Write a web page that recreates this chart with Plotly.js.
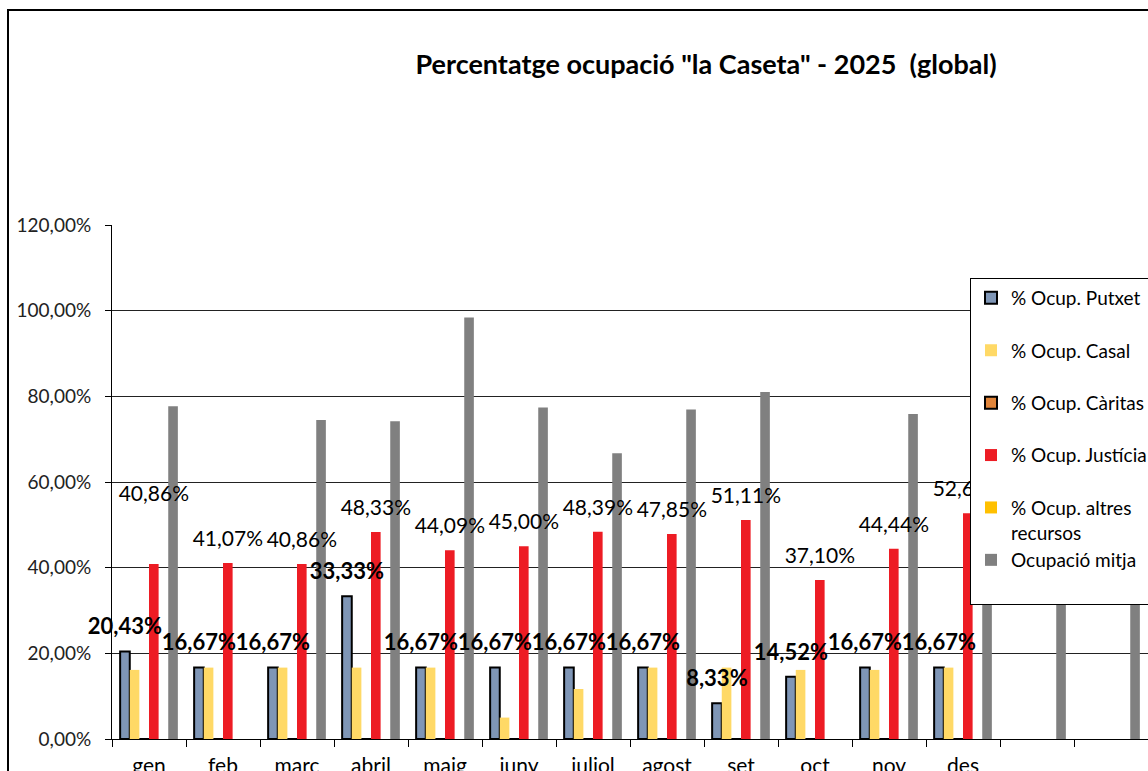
<!DOCTYPE html>
<html><head><meta charset="utf-8">
<script src="https://cdn.plot.ly/plotly-3.0.1.min.js"></script>
<style>
html,body{margin:0;padding:0;background:#fff;overflow:hidden;}
#frame{position:absolute;left:7px;top:9px;width:2000px;height:2000px;border-left:2px solid #000;border-top:2px solid #000;}
#chart{position:absolute;left:0;top:0;width:1148px;height:771px;}
</style></head><body>
<div id="frame"></div><div id="chart"></div>
<script>
const months = ["gen","feb","marc","abril","maig","juny","juliol","agost","set","oct","nov","des"," ","  "];
const putxet   = [20.43,16.67,16.67,33.33,16.67,16.67,16.67,16.67,8.33,14.52,16.67,16.67,null,null];
const casal    = [16.13,16.67,16.67,16.67,16.67,5.00,11.67,16.67,16.67,16.13,16.13,16.67,null,null];
const caritas  = [0,0,0,0,0,0,0,0,0,0,0,0,null,null];
const justicia = [40.86,41.07,40.86,48.33,44.09,45.00,48.39,47.85,51.11,37.10,44.44,52.69,null,null];
const altres   = [0,0,0,0,0,0,0,0,0,0,0,0,null,null];
const mitja    = [77.7,null,74.5,74.2,98.4,77.4,66.7,76.9,81.0,null,75.9,76.0,70.0,70.0];
const yTicks   = [0,20,40,60,80,100,120];
const seriesNames = ["% Ocup. Putxet<br>\u00a0","% Ocup. Casal<br>\u00a0","% Ocup. Càritas<br>\u00a0","% Ocup. Justícia<br>\u00a0","% Ocup. altres<br>recursos","Ocupació mitja<br>\u00a0"];

const FONT = "Lato, 'Open Sans', sans-serif";
const BARGAP = 0.22;
const NSER = 6;
const colors = ["#7F96B6","#FFD966","#E0843A","#ED1C24","#FFC000","#808080"];
const outlined = [true,false,true,false,false,false];
const data = [putxet,casal,caritas,justicia,altres,mitja].map((vals,i)=>({
  type:"bar", x:months, y:vals, name:seriesNames[i], legendgroup:"g"+i,
  marker:{color:colors[i], line:{color:"#000", width: outlined[i]?2:0}},
  hoverinfo:"y"
}));

function fmt(v){ return v.toFixed(2).replace('.', ',') + '%'; }
function slotOffset(i){ const gw = 1-BARGAP; return -gw/2 + (i+0.5)*gw/NSER; }
// data labels: drawn in the plot layer (under the legend) on a hidden numeric overlay axis
const LABEL_GAP = 17;           // invisible marker size that lifts the label above the bar top
const justiciaNudge = {0: 74};  // extra lift for the first Justícia label
function labelTrace(vals, slot, bold, size, nudge){
  const idx = vals.map((v,k)=>k).filter(k=>vals[k]!=null);
  return {type:"scatter", mode:"markers+text", xaxis:"x2", yaxis:"y",
    x: idx.map(k=>k+slotOffset(slot)), y: idx.map(k=>vals[k]),
    text: idx.map(k=>fmt(vals[k])), textposition:"top center",
    textfont:{family:FONT, size:size, color:"#000", weight: bold?"bold":"normal"},
    marker:{size: idx.map(k=>LABEL_GAP + ((nudge&&nudge[k])||0)), color:"rgba(0,0,0,0)", line:{width:0}},
    cliponaxis:false, showlegend:false, hoverinfo:"skip"};
}
data.push(labelTrace(putxet, 0, true, 22, null));
data.push(labelTrace(justicia, 3, false, 21, justiciaNudge));

const layout = {
  width:1148, height:771,
  margin:{l:112, r:0, t:225, b:32, autoexpand:false},
  paper_bgcolor:"rgba(0,0,0,0)", plot_bgcolor:"rgba(0,0,0,0)",
  separators:",.",
  font:{family:FONT, color:"#000"},
  barmode:"group", bargap:BARGAP, bargroupgap:0,
  title:{text:'Percentatge ocupació "la Caseta" - 2025  (global)', font:{family:FONT, size:27, color:"#000", weight:"bold"},
    xref:"paper", x:(706-112)/1036, xanchor:"center", yref:"container", y:1-65/771, yanchor:"middle"},
  xaxis:{type:"category", range:[-0.5,13.5], showline:true, linecolor:"#000", linewidth:1,
    ticks:"outside", tickson:"boundaries", ticklen:7, tickcolor:"#000", ticklabelstandoff:8,
    tickfont:{family:FONT, size:21, color:"#000"}, showgrid:false, fixedrange:true},
  xaxis2:{type:"linear", overlaying:"x", anchor:"y", range:[-0.5,13.5], visible:false, fixedrange:true},
  yaxis:{range:[0,120], tickmode:"array", tickvals:yTicks, ticktext:yTicks.map(fmt),
    showline:true, linecolor:"#000", linewidth:1, ticks:"outside", ticklen:6, tickcolor:"#000",
    ticklabelstandoff:10, showgrid:true, gridcolor:"#222", gridwidth:1, zeroline:false,
    tickfont:{family:FONT, size:19, color:"#222"}, fixedrange:true},
  legend:{x:(970-112)/1036, xanchor:"left", y:(739-278)/514, yanchor:"top", bgcolor:"#fff",
    bordercolor:"#000", borderwidth:1, font:{family:FONT, size:19, color:"#000"},
    tracegroupgap:2, valign:"top", traceorder:"normal"},
  showlegend:true
};
Plotly.newPlot("chart", data, layout, {displayModeBar:false, staticPlot:true});
</script></body></html>
